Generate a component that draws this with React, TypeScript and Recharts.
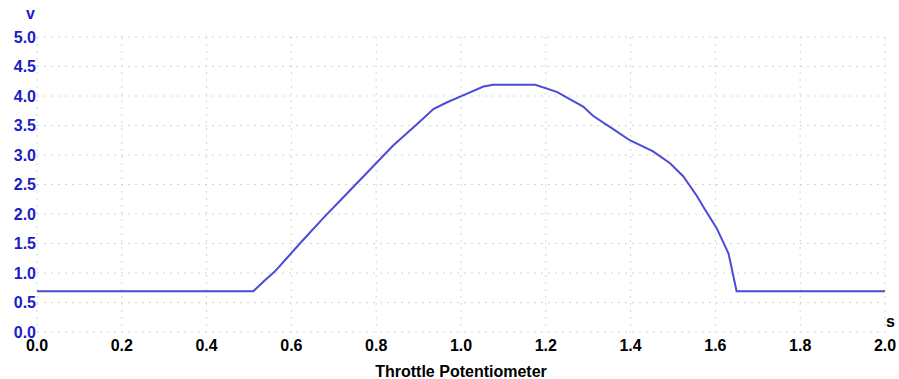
import React from "react";
import { LineChart, Line, XAxis, YAxis, CartesianGrid } from "recharts";

const timeS = [0, 0.51, 0.535, 0.56, 0.589, 0.62, 0.675, 0.73, 0.785, 0.84, 0.896, 0.935, 0.966, 0.998, 1.053, 1.076, 1.175, 1.226, 1.288, 1.312, 1.359, 1.398, 1.453, 1.493, 1.524, 1.556, 1.575, 1.603, 1.631, 1.65, 2.0];
const voltage = [0.69, 0.69, 0.86, 1.02, 1.25, 1.5, 1.93, 2.34, 2.75, 3.16, 3.52, 3.78, 3.89, 3.99, 4.16, 4.19, 4.19, 4.07, 3.82, 3.66, 3.44, 3.25, 3.06, 2.86, 2.64, 2.31, 2.08, 1.76, 1.33, 0.69, 0.69];
const xTicks = [0, 0.2, 0.4, 0.6, 0.8, 1.0, 1.2, 1.4, 1.6, 1.8, 2.0];
const yTicks = [0, 0.5, 1.0, 1.5, 2.0, 2.5, 3.0, 3.5, 4.0, 4.5, 5.0];
const title = "Throttle Potentiometer";
const yUnit = "v";
const xUnit = "s";

const data = timeS.map((t, i) => ({ t, v: voltage[i] }));

const FONT = "'Liberation Sans', Arial, sans-serif";
const BLUE = "#1c1cc8";

export default function App() {
  return (
    <div style={{ position: "absolute", left: 0, top: 0, width: 899, height: 379, background: "#fff" }}>
      <LineChart width={899} height={379} data={data} margin={{ top: 37, right: 14, left: 0, bottom: 0 }}>
        <CartesianGrid stroke="#d4d4d4" strokeDasharray="2 5" />
        <XAxis
          dataKey="t"
          type="number"
          domain={[0, 2]}
          ticks={xTicks}
          tickFormatter={(v: number) => v.toFixed(1)}
          axisLine={false}
          tickLine={false}
          tickSize={0}
          tickMargin={8}
          height={47}
          tick={{ fill: "#000", fontSize: 16, fontWeight: 700, fontFamily: FONT }}
          label={{ value: title, position: "insideBottom", offset: 2, fill: "#000", fontSize: 16, fontWeight: 700, fontFamily: FONT }}
        />
        <YAxis
          type="number"
          domain={[0, 5]}
          ticks={yTicks}
          tickFormatter={(v: number) => v.toFixed(1)}
          axisLine={false}
          tickLine={false}
          tickSize={0}
          tickMargin={1}
          width={37}
          tick={{ fill: BLUE, fontSize: 16, fontWeight: 700, fontFamily: FONT }}
        />
        <Line type="linear" dataKey="v" stroke="#4b4bd6" strokeWidth={2} dot={false} isAnimationActive={false} />
      </LineChart>
      <span style={{ position: "absolute", left: 26, top: 6, color: BLUE, fontFamily: FONT, fontWeight: 700, fontSize: 16, lineHeight: "16px" }}>{yUnit}</span>
      <span style={{ position: "absolute", left: 886, top: 314, color: "#000", fontFamily: FONT, fontWeight: 700, fontSize: 16, lineHeight: "16px" }}>{xUnit}</span>
    </div>
  );
}
